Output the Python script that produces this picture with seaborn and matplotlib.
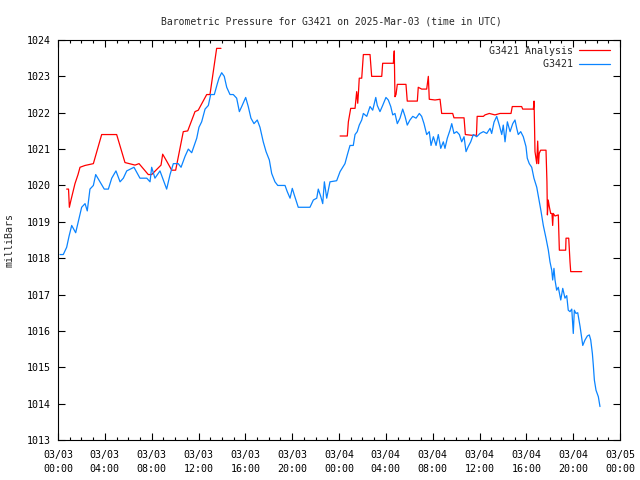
import numpy as np
import pandas as pd
import matplotlib
matplotlib.use("Agg")
import matplotlib.pyplot as plt
import matplotlib.dates as mdates
import seaborn as sns

# ---- data (hours since 2025-03-03 00:00 UTC, pressure in mbar) ----
obs_hours = [0.17, 0.45, 0.74, 0.94, 1.17, 1.51, 1.73, 2.02, 2.31, 2.50, 2.73, 3.02, 3.22, 3.59, 3.95,
             4.30, 4.59, 4.95, 5.30, 5.58, 5.87, 6.49, 7.00, 7.58, 7.86, 8.00, 8.28, 8.71, 9.28, 9.57,
             9.85, 10.27, 10.51, 10.85, 11.13, 11.42, 11.85, 12.04, 12.27, 12.56, 12.84, 13.04, 13.35,
             13.61, 13.75, 13.98, 14.20, 14.41, 14.69, 14.97, 15.26, 15.49, 15.69, 16.03, 16.25, 16.48,
             16.74, 17.02, 17.25, 17.53, 17.77, 18.05, 18.25, 18.53, 18.77, 19.39, 19.58, 19.82, 20.01,
             20.18, 20.52, 21.52, 21.81, 22.10, 22.23, 22.44, 22.61, 22.75, 22.95, 23.23, 23.80, 24.09,
             24.32, 24.51, 24.71, 24.94, 25.22, 25.37, 25.56, 25.73, 25.94, 26.08, 26.37, 26.65, 26.88,
             27.14, 27.27, 27.50, 27.73, 28.01, 28.21, 28.42, 28.59, 28.78, 28.98, 29.21, 29.44, 29.64,
             29.83, 30.06, 30.30, 30.58, 30.86, 31.06, 31.26, 31.49, 31.71, 31.86, 32.06, 32.29, 32.48,
             32.69, 32.91, 33.05, 33.25, 33.48, 33.63, 33.82, 34.05, 34.28, 34.48, 34.68, 34.85, 35.04,
             35.25, 35.47, 35.76, 36.04, 36.33, 36.62, 36.90, 37.04, 37.24, 37.47, 37.69, 37.90, 38.03,
             38.18, 38.38, 38.61, 38.84, 39.03, 39.18, 39.31, 39.52, 39.74, 39.97, 40.08, 40.25, 40.46,
             40.65, 40.89, 41.08, 41.25, 41.45, 41.68, 41.88, 42.02, 42.17, 42.25, 42.36, 42.45, 42.59,
             42.73, 42.94, 43.11, 43.30, 43.45, 43.58, 43.73, 43.88, 44.01, 44.10, 44.24, 44.39, 44.59,
             44.73, 44.82, 45.01, 45.21, 45.38, 45.50, 45.64, 45.72, 45.81, 45.95, 46.15, 46.29]
obs_mbar = [1018.1, 1018.1, 1018.3, 1018.6, 1018.9, 1018.7, 1019.0, 1019.4, 1019.5, 1019.3, 1019.9, 1020.0,
            1020.3, 1020.1, 1019.9, 1019.9, 1020.2, 1020.4, 1020.1, 1020.2, 1020.4, 1020.5, 1020.2, 1020.2,
            1020.1, 1020.5, 1020.2, 1020.4, 1019.9, 1020.3, 1020.6, 1020.6, 1020.5, 1020.8, 1021.0, 1020.9,
            1021.3, 1021.6, 1021.75, 1022.1, 1022.2, 1022.5, 1022.5, 1022.8, 1022.95, 1023.1, 1023.0, 1022.7,
            1022.5, 1022.5, 1022.4, 1022.03, 1022.17, 1022.42, 1022.17, 1021.85, 1021.7, 1021.8, 1021.6,
            1021.2, 1020.93, 1020.7, 1020.33, 1020.1, 1020.0, 1020.0, 1019.83, 1019.65, 1019.92, 1019.74,
            1019.4, 1019.4, 1019.6, 1019.65, 1019.9, 1019.7, 1019.5, 1020.1, 1019.65, 1020.1, 1020.13,
            1020.38, 1020.5, 1020.6, 1020.84, 1021.1, 1021.1, 1021.4, 1021.48, 1021.66, 1021.8, 1021.98,
            1021.9, 1022.17, 1022.07, 1022.42, 1022.2, 1022.03, 1022.2, 1022.42, 1022.35, 1022.17, 1021.94,
            1021.98, 1021.7, 1021.85, 1022.1, 1021.9, 1021.66, 1021.8, 1021.9, 1021.85, 1021.98, 1021.9,
            1021.7, 1021.4, 1021.48, 1021.1, 1021.34, 1021.1, 1021.4, 1021.02, 1021.2, 1021.02, 1021.3,
            1021.52, 1021.7, 1021.43, 1021.48, 1021.4, 1021.2, 1021.34, 1020.93, 1021.07, 1021.2, 1021.4,
            1021.34, 1021.43, 1021.48, 1021.43, 1021.57, 1021.43, 1021.74, 1021.9, 1021.66, 1021.4,
            1021.66, 1021.2, 1021.75, 1021.48, 1021.7, 1021.8, 1021.57, 1021.4, 1021.48, 1021.34, 1021.07,
            1020.75, 1020.6, 1020.5, 1020.2, 1019.95, 1019.6, 1019.3, 1018.9, 1018.55, 1018.22, 1017.9,
            1017.67, 1017.4, 1017.72, 1017.4, 1017.12, 1017.2, 1016.85, 1017.17, 1016.9, 1016.97, 1016.57,
            1016.53, 1016.6, 1015.93, 1016.57, 1016.48, 1016.5, 1016.12, 1015.8, 1015.6, 1015.75, 1015.86,
            1015.89, 1015.75, 1015.38, 1015.06, 1014.65, 1014.37, 1014.19, 1013.92]

ana1_hours = [0.74, 0.90, 0.97, 1.11, 1.45, 1.71, 1.88, 2.31, 3.02, 3.73, 5.01, 5.72, 6.58, 6.92, 7.71,
              8.00, 8.80, 8.94, 9.28, 9.71, 10.05, 10.70, 11.08, 11.70, 11.98, 12.70, 12.98, 13.55, 13.92]
ana1_mbar = [1019.9, 1019.9, 1019.4, 1019.6, 1020.05, 1020.3, 1020.5, 1020.55, 1020.6, 1021.4, 1021.4,
             1020.63, 1020.56, 1020.6, 1020.3, 1020.3, 1020.56, 1020.86, 1020.67, 1020.42, 1020.42, 1021.48,
             1021.5, 1022.03, 1022.07, 1022.5, 1022.5, 1023.77, 1023.77]

ana2_hours = [24.09, 24.71, 24.80, 25.00, 25.37, 25.51, 25.60, 25.67, 25.73, 25.94, 26.08, 26.65, 26.79,
              27.65, 27.73, 28.64, 28.72, 28.78, 28.87, 28.98, 29.72, 29.83, 30.69, 30.77, 31.06, 31.49,
              31.63, 31.71, 32.20, 32.63, 32.77, 33.71, 33.82, 34.68, 34.79, 35.33, 35.74, 35.80, 36.33,
              36.47, 36.84, 37.32, 37.75, 38.69, 38.80, 39.60, 39.69, 40.60, 40.66, 40.74, 40.89, 40.97,
              41.04, 41.10, 41.22, 41.68, 41.76, 41.80, 41.87, 41.96, 42.08, 42.19, 42.25, 42.30, 42.45,
              42.73, 42.82, 43.36, 43.39, 43.62, 43.73, 43.79, 44.73]
ana2_mbar = [1021.36, 1021.36, 1021.75, 1022.12, 1022.12, 1022.58, 1022.26, 1022.6, 1022.95, 1022.95,
             1023.6, 1023.6, 1023.0, 1023.0, 1023.36, 1023.36, 1023.7, 1022.44, 1022.5, 1022.78, 1022.78,
             1022.32, 1022.32, 1022.7, 1022.65, 1022.65, 1023.0, 1022.37, 1022.35, 1022.37, 1021.98,
             1021.98, 1021.86, 1021.86, 1021.4, 1021.38, 1021.38, 1021.9, 1021.9, 1021.94, 1021.98,
             1021.94, 1021.98, 1021.98, 1022.17, 1022.17, 1022.1, 1022.1, 1022.32, 1020.93, 1020.6,
             1021.22, 1020.6, 1020.88, 1020.97, 1020.97, 1020.1, 1019.19, 1019.6, 1019.42, 1019.23,
             1019.23, 1018.9, 1019.23, 1019.16, 1019.19, 1018.22, 1018.22, 1018.55, 1018.55, 1017.9,
             1017.63, 1017.63]

series_names = ["G3421 Analysis", "G3421"]
series_colors = ["#ff0000", "#0a84ff"]
y_ticks = list(range(1013, 1025))

# ---- build table ----
start = pd.Timestamp("2025-03-03 00:00")
frames = []
for name, seg, hrs, vals in [(series_names[0], "a1", ana1_hours, ana1_mbar),
                             (series_names[0], "a2", ana2_hours, ana2_mbar),
                             (series_names[1], "o", obs_hours, obs_mbar)]:
    frames.append(pd.DataFrame({
        "time": start + pd.to_timedelta(np.array(hrs), unit="h"),
        "mbar": vals, "series": name, "seg": seg}))
df = pd.concat(frames, ignore_index=True)

# ---- style ----
sns.set_style("ticks")
plt.rcParams["font.family"] = ["DejaVu Sans Mono", "DejaVu Sans"]
plt.rcParams["font.size"] = 7.2

fig = plt.figure(figsize=(6.4, 4.8), dpi=100)
ax = fig.add_axes([58 / 640, 40 / 480, 562 / 640, 400 / 480])

sns.lineplot(data=df, x="time", y="mbar", hue="series", units="seg", estimator=None,
             sort=False, hue_order=series_names, palette=series_colors, linewidth=0.9, ax=ax)

ax.set_xlim(start, start + pd.Timedelta(hours=48))
ax.set_ylim(1013, 1024)
ax.set_yticks(y_ticks)
ax.xaxis.set_major_locator(mdates.HourLocator(byhour=range(0, 24, 4)))
ax.xaxis.set_minor_locator(mdates.HourLocator())
ax.xaxis.set_major_formatter(mdates.DateFormatter("%m/%d\n%H:%M"))
ax.tick_params(which="both", direction="in", top=True, right=True, colors="black",
               labelsize=7.2, width=0.8)
ax.tick_params(which="major", length=5)
ax.tick_params(which="minor", length=2.5)
ax.tick_params(axis="x", which="major", pad=7)
ax.tick_params(axis="y", which="major", pad=5)
for sp in ax.spines.values():
    sp.set_visible(True)
    sp.set_linewidth(0.8)
    sp.set_color("black")
plt.setp(ax.get_xticklabels(), linespacing=1.55)

ax.set_xlabel("")
ax.set_ylabel("milliBars", fontsize=7.2)
ax.yaxis.set_label_coords(-0.077, 0.5)
ax.set_title("Barometric Pressure for G3421 on 2025-Mar-03 (time in UTC)", fontsize=7.0,
             pad=11, x=0.486)

# gnuplot-style key: right-aligned labels, sample line after the text (monospace padding)
handles, labels = ax.get_legend_handles_labels()
width = max(len(l) for l in labels)
padded = [l.rjust(width) for l in labels]
leg = ax.legend(handles, padded, loc="upper right", bbox_to_anchor=(1 - 4 / 562, 1.0),
                markerfirst=False, frameon=False, handlelength=3.1, handletextpad=0.6,
                labelspacing=0.35, borderaxespad=0.2, fontsize=7.2)
for line in leg.get_lines():
    line.set_linewidth(0.9)

fig.savefig("out.png", dpi=100)
